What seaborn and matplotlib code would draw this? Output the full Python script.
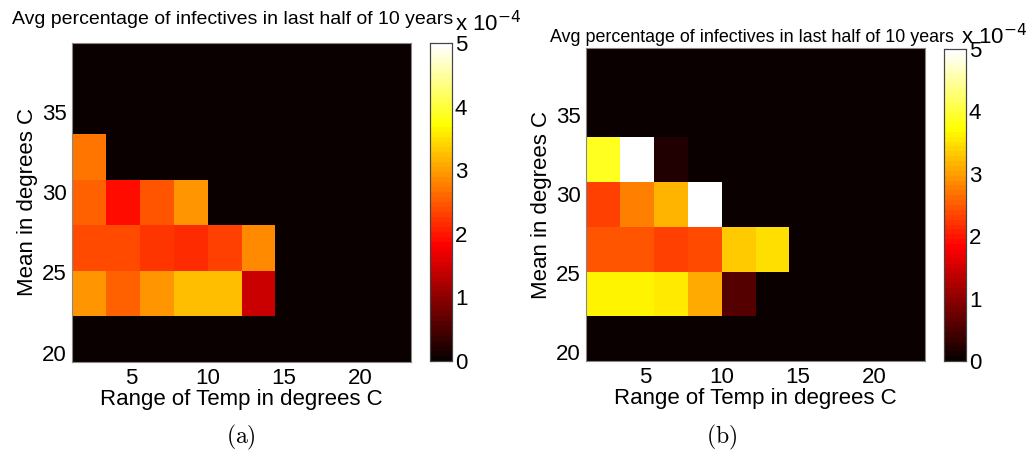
import numpy as np
import pandas as pd
import matplotlib
matplotlib.use("Agg")
import matplotlib.pyplot as plt
import seaborn as sns

# Grid of the parameter sweep: range of temperature (columns), mean temperature (rows)
temp_range = np.arange(1, 11) * 20.0 / 9.0
temp_mean = np.linspace(21.0, 38.0, 7)

# Average infective percentage (units of 1e-4), rows from the lowest mean upward
infect_a = [
    [0.00, 0.00, 0.00, 0.00, 0.00, 0.00, 0.00, 0.00, 0.00, 0.00],
    [2.90, 2.50, 2.94, 3.24, 3.24, 1.47, 0.00, 0.00, 0.00, 0.00],
    [2.35, 2.35, 2.25, 2.13, 2.28, 2.82, 0.00, 0.00, 0.00, 0.00],
    [2.50, 1.90, 2.43, 2.90, 0.00, 0.00, 0.00, 0.00, 0.00, 0.00],
    [2.72, 0.00, 0.00, 0.00, 0.00, 0.00, 0.00, 0.00, 0.00, 0.00],
    [0.00, 0.00, 0.00, 0.00, 0.00, 0.00, 0.00, 0.00, 0.00, 0.00],
    [0.00, 0.00, 0.00, 0.00, 0.00, 0.00, 0.00, 0.00, 0.00, 0.00],
]
infect_b = [
    [0.00, 0.00, 0.00, 0.00, 0.00, 0.00, 0.00, 0.00, 0.00, 0.00],
    [3.65, 3.65, 3.55, 3.05, 0.55, 0.00, 0.00, 0.00, 0.00, 0.00],
    [2.43, 2.43, 2.28, 2.35, 3.35, 3.50, 0.00, 0.00, 0.00, 0.00],
    [2.28, 2.75, 3.13, 5.00, 0.00, 0.00, 0.00, 0.00, 0.00, 0.00],
    [3.90, 5.00, 0.22, 0.00, 0.00, 0.00, 0.00, 0.00, 0.00, 0.00],
    [0.00, 0.00, 0.00, 0.00, 0.00, 0.00, 0.00, 0.00, 0.00, 0.00],
    [0.00, 0.00, 0.00, 0.00, 0.00, 0.00, 0.00, 0.00, 0.00, 0.00],
]

x_ticks = [5, 10, 15, 20]
y_ticks = [20, 25, 30, 35]
cbar_ticks = [0, 1, 2, 3, 4, 5]
title = "Avg percentage of infectives in last half of 10 years"
xlabel = "Range of Temp in degrees C"
ylabel = "Mean in degrees C"

sns.set_theme(style="white")
plt.rcParams["font.family"] = ["Liberation Sans", "DejaVu Sans"]
plt.rcParams["mathtext.fontset"] = "cm"
for key in ("text.color", "axes.labelcolor", "xtick.labelcolor", "ytick.labelcolor"):
    plt.rcParams[key] = "black"

W, H = 1032, 459
fig = plt.figure(figsize=(W / 100, H / 100), dpi=100)


def box(x0, y0, x1, y1):
    # pixel box (top-left origin) -> figure fraction rect
    return [x0 / W, 1 - y1 / H, (x1 - x0) / W, (y1 - y0) / H]


def cell_pos(v, centers):
    step = centers[1] - centers[0]
    return (v - (centers[0] - step / 2)) / step


cmap = plt.get_cmap("hot", 64)
FS = 16


def panel(values, ax_box, cb_box, title_xy, title_size, off_xy):
    ax = fig.add_axes(box(*ax_box))
    cax = fig.add_axes(box(*cb_box))
    df = pd.DataFrame(values, index=temp_mean, columns=temp_range)
    sns.heatmap(df, ax=ax, cbar_ax=cax, cmap=cmap, vmin=0, vmax=5,
                cbar_kws={"ticks": cbar_ticks})
    ax.invert_yaxis()
    ax.set_xticks([cell_pos(v, temp_range) for v in x_ticks])
    ax.set_xticklabels([str(v) for v in x_ticks], rotation=0)
    ax.set_yticks([cell_pos(v, temp_mean) for v in y_ticks])
    ax.set_yticklabels([str(v) for v in y_ticks], rotation=0, va="center")
    ax.tick_params(axis="both", direction="in", length=4, width=0.8,
                   color="#555555", labelsize=FS, pad=4)
    ax.set_xlabel(xlabel, fontsize=FS, labelpad=0)
    ax.set_ylabel(ylabel, fontsize=FS, labelpad=3)
    for sp in ax.spines.values():
        sp.set_visible(True)
        sp.set_color("#888888")
        sp.set_linewidth(0.8)

    cax.tick_params(direction="in", length=3, width=0.8, labelsize=FS,
                    pad=2, right=True, left=True, color="#444444")
    cax.set_yticklabels([str(t) for t in cbar_ticks])
    for sp in cax.spines.values():
        sp.set_visible(True)
        sp.set_color("#444444")
        sp.set_linewidth(0.8)

    fig.text(title_xy[0] / W, 1 - title_xy[1] / H, title,
             fontsize=title_size, ha="left", va="center")
    fig.text(off_xy[0] / W, 1 - off_xy[1] / H, r"x 10$^{-4}$",
             fontsize=FS, ha="left", va="center",
             math_fontfamily="dejavusans")
    return ax


panel(infect_a, (72, 43, 411, 362), (430, 43, 452, 361),
      (12, 19), 14.0, (455, 24))
panel(infect_b, (586, 48, 925, 361), (944, 49, 966, 361),
      (550, 37), 12.9, (961, 37))

fig.text(241 / W, 1 - 437 / H, r"$\mathrm{(a)}$", fontsize=17,
         ha="center", va="center")
fig.text(722 / W, 1 - 437 / H, r"$\mathrm{(b)}$", fontsize=17,
         ha="center", va="center")

fig.savefig("out.png", dpi=100)
